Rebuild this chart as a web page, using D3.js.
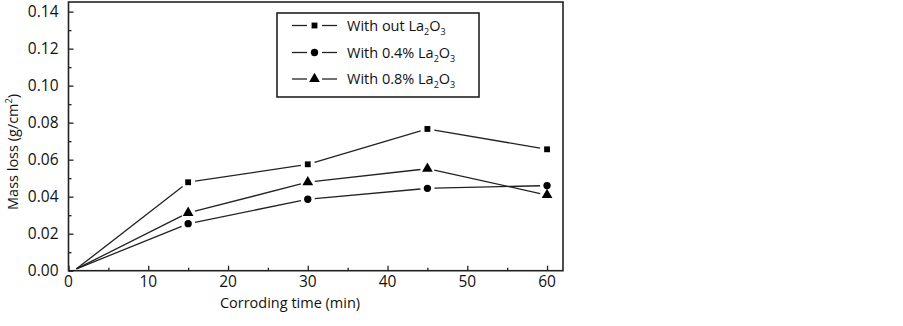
<!DOCTYPE html>
<html><head><meta charset="utf-8">
<script src="https://cdn.jsdelivr.net/npm/d3@7"></script>
<style>body{margin:0;background:#fff}svg{display:block}text{font-family:"Open Sans",sans-serif;fill:#111}</style>
</head><body><svg id="c" width="903" height="326"></svg>
<script>
const times = [1, 15, 30, 45, 60];
const withoutLa = [0.001, 0.0478, 0.0575, 0.0766, 0.0656];
const with04 = [0.001, 0.0254, 0.0386, 0.0445, 0.046];
const with08 = [0.001, 0.0313, 0.0478, 0.0551, 0.0409];
const seriesNames = ["With out ", "With 0.4% ", "With 0.8% "];
const seriesSymbols = ["square", "circle", "triangle"];
const xTicks = [0, 10, 20, 30, 40, 50, 60];
const yTicks = [0, 0.02, 0.04, 0.06, 0.08, 0.10, 0.12, 0.14];

const svg = d3.select("#c");
const L = 68.5, R = 563, T = 2, B = 270.7;
const x = d3.scaleLinear().domain([0, 62]).range([L, R]);
const y = d3.scaleLinear().domain([0, 0.1452]).range([B, T]);

const gx = svg.append("g").attr("transform", `translate(0,${B})`)
  .call(d3.axisBottom(x).tickValues(d3.range(0, 61, 5)).tickSize(-4).tickFormat(""));
gx.selectAll(".tick line").attr("y2", d => d % 10 === 0 ? -5 : -3);
const gy = svg.append("g").attr("transform", `translate(${L},0)`)
  .call(d3.axisLeft(y).tickValues(d3.range(0, 0.1451, 0.01)).tickSize(-4).tickFormat(""));
gy.selectAll(".tick line").attr("x2", (d, i) => i % 2 === 0 ? 5 : 3);
svg.selectAll(".domain").remove();
svg.selectAll(".tick line").attr("stroke", "#222").attr("stroke-width", 1.3);

svg.append("rect").attr("x", L).attr("y", T).attr("width", R - L).attr("height", B - T)
  .attr("fill", "none").attr("stroke", "#222").attr("stroke-width", 1.6);

svg.append("g").selectAll("text").data(xTicks).join("text")
  .attr("x", d => x(d)).attr("y", 287).attr("text-anchor", "middle")
  .attr("font-size", 15.5).text(d => d);
svg.append("g").selectAll("text").data(yTicks).join("text")
  .attr("x", 58.5).attr("y", d => y(d) + 5.5).attr("text-anchor", "end")
  .attr("font-size", 15.5).text(d => d.toFixed(2));

svg.append("text").attr("x", 290).attr("y", 308).attr("text-anchor", "middle")
  .attr("font-size", 14.5).text("Corroding time (min)");
const yt = svg.append("text").attr("transform", "translate(18,152) rotate(-90)")
  .attr("text-anchor", "middle").attr("font-size", 14.5);
yt.append("tspan").text("Mass loss (g/cm");
yt.append("tspan").attr("font-size", 9).attr("dy", -6).text("2");
yt.append("tspan").attr("dy", 6).text(")");

const symGen = {
  square: d3.symbol().type(d3.symbolSquare).size(34),
  circle: d3.symbol().type(d3.symbolCircle).size(42),
  triangle: d3.symbol().type(d3.symbolTriangle).size(50)
};
const allSeries = [withoutLa, with04, with08];
allSeries.forEach((vals, si) => {
  const g = svg.append("g");
  for (let i = 0; i < times.length - 1; i++) {
    const x1 = x(times[i]), y1 = y(vals[i]), x2 = x(times[i + 1]), y2 = y(vals[i + 1]);
    const len = Math.hypot(x2 - x1, y2 - y1);
    const ux = (x2 - x1) / len, uy = (y2 - y1) / len;
    const g1 = i === 0 ? 0 : 7, g2 = 7;
    g.append("line").attr("x1", x1 + ux * g1).attr("y1", y1 + uy * g1)
      .attr("x2", x2 - ux * g2).attr("y2", y2 - uy * g2)
      .attr("stroke", "#222").attr("stroke-width", 1.3);
  }
  g.selectAll("path").data(times.slice(1).map((t, i) => [t, vals[i + 1]])).join("path")
    .attr("transform", d => `translate(${x(d[0])},${y(d[1])})`)
    .attr("d", symGen[seriesSymbols[si]]()).attr("fill", "#000");
});

svg.append("rect").attr("x", 277).attr("y", 13).attr("width", 202).attr("height", 84)
  .attr("fill", "#fff").attr("stroke", "#222").attr("stroke-width", 1.6);
const rowsY = [25.5, 52.5, 79];
seriesNames.forEach((nm, i) => {
  const ry = rowsY[i];
  svg.append("line").attr("x1", 292).attr("x2", 307).attr("y1", ry).attr("y2", ry).attr("stroke", "#222").attr("stroke-width", 1.3);
  svg.append("line").attr("x1", 322).attr("x2", 337).attr("y1", ry).attr("y2", ry).attr("stroke", "#222").attr("stroke-width", 1.3);
  svg.append("path").attr("transform", `translate(314.5,${ry})`).attr("d", symGen[seriesSymbols[i]]()).attr("fill", "#000");
  const t = svg.append("text").attr("x", 347).attr("y", ry + 5).attr("font-size", 14.5);
  t.append("tspan").text(nm + "La");
  t.append("tspan").attr("font-size", 9).attr("dy", 4).text("2");
  t.append("tspan").attr("dy", -4).text("O");
  t.append("tspan").attr("font-size", 9).attr("dy", 4).text("3");
});
</script></body></html>
